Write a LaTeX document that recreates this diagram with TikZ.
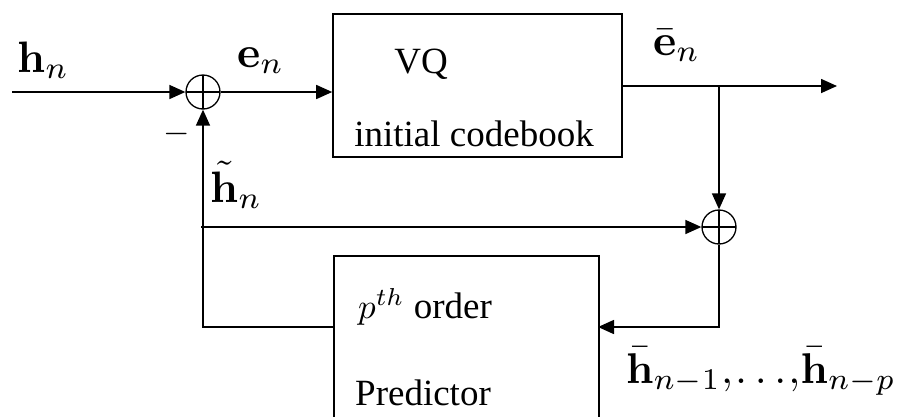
\documentclass[tikz,border=0pt]{standalone}
\usepackage{graphicx}
\usepackage[no-math]{fontspec}
\setmainfont{Liberation Serif}
\usetikzlibrary{arrows.meta}

\tikzset{
  wire/.style={line width=1.6pt},
  arr/.style={wire, -{Triangle[length=16pt,width=14pt]}},
  block/.style={draw, line width=1.6pt, inner sep=0pt, fill=white},
  summer/.style={circle, draw, line width=1.3pt, minimum size=34pt, inner sep=0pt,
    path picture={\draw[line width=1.3pt]
      (path picture bounding box.north) -- (path picture bounding box.south)
      (path picture bounding box.west) -- (path picture bounding box.east);}},
  lbl/.style={inner sep=0pt},
  boxtxt/.style={inner sep=0pt, font=\fontsize{37}{40}\selectfont}
}
% math labels are set at 10pt and enlarged
\newcommand{\bigmath}[2]{\scalebox{#1}{\normalsize$#2$}}
% tight comma-dots-comma between the two delayed vectors
\newcommand{\tightdots}{{,}\kern0.05em.\kern0.18em.\kern0.18em.\kern0.05em{,}}

\begin{document}
\begin{tikzpicture}[x=1pt, y=-1pt]
  \useasboundingbox (0,0) rectangle (901,416);
  \clip (0,0) rectangle (901,416);

  % blocks
  \node[block, minimum width=289pt, minimum height=143pt] (vq) at (477.5,85.5) {};
  \node[block, minimum width=265pt, minimum height=200pt, anchor=north west] (pr) at (333,255) {};

  % adders
  \node[summer] (s1) at (203,92) {};
  \node[summer] (s2) at (719,227) {};

  % free ends and branch points
  \coordinate (in)   at (12,92);
  \coordinate (out)  at (837,86);
  \coordinate (br)   at (719,86);
  \coordinate (tap)  at (201,227);
  \coordinate (pin)  at (598,327);
  \coordinate (pout) at (333,327);

  % signal flow
  \draw[arr] (in) -- (s1.west);
  \draw[arr] (s1.east) -- (s1 -| vq.west);
  \draw[arr] (vq.east |- out) -- (out);
  \draw[arr] (br) -- (s2.north);
  \draw[arr] (tap) -- (s2.west);
  \draw[arr] (s2.south) |- (pin);
  \draw[arr] (pout) -| (s1.south);

  % signal labels
  \node[lbl, anchor=base west] (lhn) at (17,72) {\bigmath{4.4}{\mathbf{h}_{n}}};
  \node[lbl, anchor=base west] (len) at (237,67) {\bigmath{4.4}{\mathbf{e}_{n}}};
  \node[lbl, anchor=base west] (lebar) at (653,55) {\bigmath{4.4}{\bar{\mathbf{e}}_{n}}};
  \node[lbl, anchor=base west] (lht) at (210,202) {\bigmath{4.4}{\tilde{\mathbf{h}}_{n}}};
  \node[lbl] (lminus) at (177,134) {\bigmath{3.4}{-}};
  \node[lbl, anchor=base west] (lhbar) at (626,383)
    {\bigmath{4.3}{\bar{\mathbf{h}}_{n-1}\tightdots\bar{\mathbf{h}}_{n-p}}};

  % block texts
  \node[boxtxt, anchor=base] (tvq) at (421,73) {VQ};
  \node[boxtxt, anchor=base] (tcb) at (474,146) {initial codebook};
  \node[boxtxt, anchor=base west] (tord) at (358,318) {\bigmath{3.5}{p^{th}} order};
  \node[boxtxt, anchor=base west] (tpr) at (355,405) {Predictor};
\end{tikzpicture}
\end{document}
